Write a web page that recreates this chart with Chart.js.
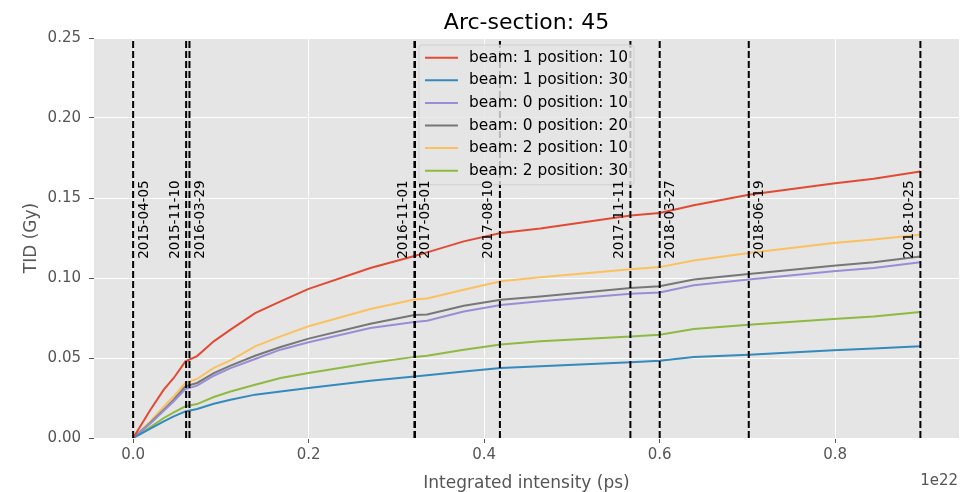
<!DOCTYPE html>
<html>
<head>
<meta charset="utf-8">
<script src="https://cdn.jsdelivr.net/npm/chart.js@4.4.0/dist/chart.umd.min.js"></script>
<style>
  html, body { margin: 0; padding: 0; background: #fff; }
  #wrap { width: 961px; height: 492px; }
</style>
</head>
<body>
<div id="wrap"><canvas id="chart" width="961" height="492"></canvas></div>
<script>
// ── Data: integrated intensity (x, in units of 1e22) and TID (Gy) ─────────────
const intensity = [0, 0.0197, 0.0349, 0.0463, 0.0596, 0.0729, 0.0919, 0.111, 0.139, 0.168, 0.2,
                   0.2704, 0.3206, 0.335, 0.3768, 0.419, 0.464, 0.567, 0.6, 0.639, 0.7016, 0.798,
                   0.844, 0.897];

const tidB1P10 = [0, 0.0177, 0.0302, 0.0375, 0.0479, 0.0512, 0.0604, 0.0677, 0.078, 0.0854, 0.0932,
                  0.1062, 0.1137, 0.116, 0.1229, 0.1281, 0.131, 0.139, 0.1406, 0.1455, 0.152, 0.159,
                  0.162, 0.1666];
const tidB1P30 = [0, 0.0058, 0.0104, 0.0135, 0.0166, 0.0181, 0.0214, 0.0239, 0.0271, 0.0291, 0.0312,
                  0.0358, 0.0385, 0.0392, 0.0416, 0.0437, 0.0448, 0.0473, 0.0483, 0.0506, 0.052, 0.0548,
                  0.056, 0.0573];
const tidB0P10 = [0, 0.009, 0.017, 0.023, 0.0306, 0.0327, 0.0389, 0.0437, 0.0494, 0.0552, 0.0598,
                  0.0687, 0.0725, 0.0733, 0.0791, 0.0831, 0.0854, 0.0902, 0.091, 0.0954, 0.099, 0.1042,
                  0.1063, 0.1098];
const tidB0P20 = [0, 0.0095, 0.0177, 0.024, 0.0323, 0.0344, 0.0406, 0.0452, 0.0514, 0.0569, 0.0621,
                  0.0714, 0.0768, 0.0772, 0.0827, 0.0864, 0.0885, 0.0937, 0.0948, 0.099, 0.1025, 0.1077,
                  0.1098, 0.1135];
const tidB2P10 = [0, 0.0104, 0.0198, 0.026, 0.0344, 0.0369, 0.0438, 0.0485, 0.0573, 0.0635, 0.0698,
                  0.0806, 0.0866, 0.0872, 0.0927, 0.0979, 0.1004, 0.1055, 0.1068, 0.111, 0.1156, 0.1219,
                  0.124, 0.127];
const tidB2P30 = [0, 0.0068, 0.0125, 0.016, 0.0198, 0.0212, 0.0256, 0.0291, 0.0333, 0.0375, 0.0406,
                  0.0469, 0.0507, 0.0514, 0.0552, 0.0585, 0.0604, 0.0635, 0.0646, 0.0681, 0.0708, 0.0744,
                  0.076, 0.0788];

const seriesLabels = ["beam: 1 position: 10", "beam: 1 position: 30", "beam: 0 position: 10",
                      "beam: 0 position: 20", "beam: 2 position: 10", "beam: 2 position: 30"];
const seriesValues = [tidB1P10, tidB1P30, tidB0P10, tidB0P20, tidB2P10, tidB2P30];

// run dates marked with dashed lines
const runDates     = ["2015-04-05", "2015-11-10", "2016-03-29", "2016-11-01", "2017-05-01",
                      "2017-08-10", "2017-11-11", "2018-03-27", "2018-06-19", "2018-10-25"];
const runIntensity = [0, 0.0604, 0.0642, 0.3206, 0.3212, 0.418, 0.5667, 0.6001, 0.7016, 0.8972];

const xTicks = [0, 0.2, 0.4, 0.6, 0.8];
const yTicks = [0, 0.05, 0.10, 0.15, 0.20, 0.25];

const chartTitle = "Arc-section: 45";

// ── Style ─────────────────────────────────────────────────────────────────────
const COLORS    = ["#E24A33", "#348ABD", "#988ED5", "#777777", "#FBC15E", "#8EBA42"];
const FONT      = '"DejaVu Sans", sans-serif';
const TEXT_GREY = "#555555";
const labelSide = ["right", "left", "right", "left", "right", "left", "left", "right", "right", "left"];

// ── Datasets ──────────────────────────────────────────────────────────────────
const curveSets = seriesValues.map((vals, i) => ({
    label:       seriesLabels[i],
    data:        intensity.map((x, j) => ({ x, y: vals[j] })),
    borderColor: COLORS[i],
    borderWidth: 2,
    pointRadius: 0,
    showLine:    true,
    order:       1,
}));

const runSets = runIntensity.map((x, i) => ({
    label:       runDates[i],
    data:        [{ x, y: yTicks[0] }, { x, y: yTicks[yTicks.length - 1] }],
    borderColor: "#000",
    borderWidth: 2,
    borderDash:  [7, 3],
    pointRadius: 0,
    showLine:    true,
    order:       0,
}));

// ── Plugins ───────────────────────────────────────────────────────────────────
const plotBackground = {
    id: "plotBackground",
    beforeDraw(chart) {
        const { ctx, chartArea: a } = chart;
        ctx.save();
        ctx.fillStyle = "#E5E5E5";
        ctx.fillRect(a.left, a.top, a.right - a.left, a.bottom - a.top);
        // title, centred over the plot area like matplotlib does
        ctx.font = `22px ${FONT}`;
        ctx.fillStyle = "#000";
        ctx.textAlign = "center";
        ctx.textBaseline = "alphabetic";
        ctx.fillText(chartTitle, (a.left + a.right) / 2, 29);
        ctx.restore();
    },
};

const insideLegend = {
    id: "insideLegend",
    afterDraw(chart) {
        const { ctx, chartArea: a } = chart;
        ctx.save();
        ctx.font = `15.4px ${FONT}`;
        const textW = Math.max(...seriesLabels.map(t => ctx.measureText(t).width));
        const w = 6 + 33 + 11 + textW + 6;
        const rowH = 22.6;
        const h = 12.7 + rowH * (seriesLabels.length - 1) + 14;
        const left = (a.left + a.right) / 2 - w / 2;
        const top = a.top + 7;

        ctx.beginPath();
        ctx.roundRect(left, top, w, h, 3);
        ctx.fillStyle = "rgba(229,229,229,0.8)";
        ctx.fill();
        ctx.strokeStyle = "rgba(204,204,204,0.8)";
        ctx.lineWidth = 1;
        ctx.stroke();

        ctx.textBaseline = "middle";
        ctx.textAlign = "left";
        seriesLabels.forEach((t, i) => {
            const cy = top + 12.7 + i * rowH;
            ctx.beginPath();
            ctx.moveTo(left + 6, cy);
            ctx.lineTo(left + 39, cy);
            ctx.strokeStyle = COLORS[i];
            ctx.lineWidth = 2;
            ctx.stroke();
            ctx.fillStyle = "#000";
            ctx.fillText(t, left + 50, cy);
        });

        // offset text of the x axis
        ctx.font = `15px ${FONT}`;
        ctx.fillStyle = TEXT_GREY;
        ctx.textAlign = "right";
        ctx.fillText("1e22", a.right - 1, 481);
        ctx.restore();
    },
};

// date labels go last so the legend box does not hide their tops
const runLabels = {
    id: "runLabels",
    afterDraw(chart) {
        const { ctx, scales: { x, y } } = chart;
        ctx.save();
        ctx.font = `13.5px ${FONT}`;
        ctx.fillStyle = "#000";
        ctx.textAlign = "left";
        ctx.textBaseline = "middle";
        runDates.forEach((d, i) => {
            const px = x.getPixelForValue(runIntensity[i]) + (labelSide[i] === "left" ? -11 : 11);
            const py = y.getPixelForValue(0.112);
            ctx.save();
            ctx.translate(px, py);
            ctx.rotate(-Math.PI / 2);
            ctx.fillText(d, 0, 0);
            ctx.restore();
        });
        ctx.restore();
    },
};

// ── Chart ─────────────────────────────────────────────────────────────────────
new Chart(document.getElementById("chart"), {
    type: "scatter",
    data: { datasets: [...runSets, ...curveSets] },
    plugins: [plotBackground, insideLegend, runLabels],
    options: {
        responsive: false,
        animation: false,
        devicePixelRatio: 1,
        events: [],
        layout: { padding: { left: 0, right: 2, top: 38, bottom: 0 } },
        plugins: {
            legend:  { display: false },
            tooltip: { enabled: false },
            title:   { display: false },
        },
        scales: {
            x: {
                type: "linear",
                min: -0.0446,
                max: 0.9412,
                afterFit(s) { s.height = 54; },
                afterBuildTicks(s) { s.ticks = xTicks.map(v => ({ value: v })); },
                border: { display: false },
                grid: { color: "#FFFFFF", lineWidth: 1, tickLength: 5, tickColor: TEXT_GREY },
                ticks: {
                    color: TEXT_GREY,
                    padding: 3,
                    font: { family: FONT, size: 15 },
                    callback: v => v.toFixed(1),
                },
                title: {
                    display: true,
                    text: "Integrated intensity (ps)",
                    color: TEXT_GREY,
                    font: { family: FONT, size: 17, lineHeight: 1 },
                    padding: { top: 0, bottom: 0 },
                },
            },
            y: {
                type: "linear",
                min: 0,
                max: 0.25,
                afterFit(s) { s.width = 94; },
                afterBuildTicks(s) { s.ticks = yTicks.map(v => ({ value: v })); },
                border: { display: false },
                grid: { color: "#FFFFFF", lineWidth: 1, tickLength: 5, tickColor: TEXT_GREY },
                ticks: {
                    color: TEXT_GREY,
                    padding: 8,
                    font: { family: FONT, size: 15 },
                    callback: v => v.toFixed(2),
                },
                title: {
                    display: true,
                    text: "TID (Gy)",
                    color: TEXT_GREY,
                    font: { family: FONT, size: 17, lineHeight: 1 },
                    padding: { top: 23, bottom: 0 },
                },
            },
        },
    },
});
</script>
</body>
</html>
